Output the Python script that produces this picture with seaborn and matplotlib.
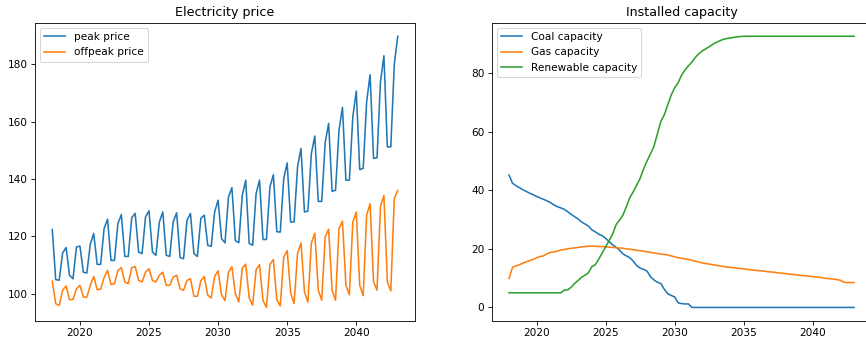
import numpy as np
import matplotlib
matplotlib.use("Agg")
import matplotlib.pyplot as plt
import seaborn as sns

# Quarterly time axis, 2018 Q1 .. 2043 Q1
quarter = 2018 + np.arange(101) / 4

peak_price = [
    122.4, 104.9, 104.7, 114.2,
    116.1, 106.4, 105.2, 116.3,
    116.6, 107.5, 107.2, 117.2,
    121.0, 110.2, 110.2, 122.7,
    126.0, 111.6, 111.6, 124.5,
    127.6, 113.0, 113.0, 126.5,
    128.0, 114.5, 114.0, 126.8,
    128.9, 114.5, 113.4, 125.0,
    128.5, 113.4, 113.0, 125.0,
    128.2, 112.6, 112.2, 125.6,
    128.0, 114.0, 113.0, 126.2,
    127.4, 116.9, 116.5, 128.5,
    132.6, 119.2, 117.7, 133.7,
    137.0, 118.5, 117.8, 134.3,
    139.6, 117.5, 116.9, 134.9,
    139.6, 118.9, 118.9, 137.2,
    141.5, 121.6, 121.5, 140.2,
    145.6, 125.0, 125.0, 144.2,
    150.7, 128.5, 128.8, 148.9,
    155.0, 132.2, 132.2, 152.7,
    159.4, 135.7, 136.1, 157.0,
    165.0, 139.6, 139.6, 161.7,
    170.7, 143.3, 143.7, 166.9,
    176.4, 147.2, 147.4, 173.9,
    183.0, 151.2, 151.2, 180.0,
    189.8,
]

offpeak_price = [
    104.4, 96.5, 95.9, 101.2,
    102.7, 97.9, 98.0, 101.7,
    102.9, 98.8, 98.8, 102.9,
    106.0, 101.4, 101.6, 105.6,
    108.1, 103.2, 103.5, 108.1,
    109.1, 104.1, 103.5, 109.1,
    109.5, 104.6, 104.1, 107.5,
    108.7, 104.6, 104.1, 106.4,
    107.5, 102.9, 102.9, 105.8,
    106.4, 101.7, 101.2, 104.6,
    105.2, 99.1, 99.1, 104.5,
    106.0, 99.5, 98.5, 106.0,
    108.0, 99.6, 97.6, 107.5,
    109.4, 100.0, 97.1, 108.9,
    110.3, 98.5, 96.0, 108.4,
    110.1, 97.6, 95.2, 110.2,
    111.9, 97.9, 95.7, 112.8,
    115.0, 100.2, 96.6, 114.0,
    117.7, 100.6, 97.1, 117.7,
    121.1, 101.2, 97.7, 119.8,
    122.5, 101.2, 97.7, 122.7,
    125.3, 102.9, 99.6, 125.0,
    128.5, 102.9, 99.3, 127.4,
    131.4, 104.1, 101.2, 130.3,
    134.3, 104.1, 101.0, 133.2,
    136.0,
]

coal_capacity = [
    45.2, 42.4, 41.6, 40.9,
    40.2, 39.6, 39.0, 38.5,
    37.9, 37.4, 36.9, 36.4,
    35.8, 35.0, 34.4, 34.0,
    33.5, 32.7, 31.8, 31.0,
    30.2, 29.2, 28.5, 27.8,
    26.5, 25.8, 25.0, 24.5,
    23.6, 22.5, 21.4, 20.6,
    19.6, 18.3, 17.6, 17.0,
    15.8, 14.3, 13.4, 13.0,
    12.4, 10.5, 9.4, 8.6,
    8.2, 6.2, 4.7, 4.1,
    3.6, 1.6, 1.3, 1.2,
    1.2, 0.0, 0.0, 0.0,
    0.0, 0.0, 0.0, 0.0,
    0.0, 0.0, 0.0, 0.0,
    0.0, 0.0, 0.0, 0.0,
    0.0, 0.0, 0.0, 0.0,
    0.0, 0.0, 0.0, 0.0,
    0.0, 0.0, 0.0, 0.0,
    0.0, 0.0, 0.0, 0.0,
    0.0, 0.0, 0.0, 0.0,
    0.0, 0.0, 0.0, 0.0,
    0.0, 0.0, 0.0, 0.0,
    0.0, 0.0, 0.0, 0.0,
    0.0,
]

gas_capacity = [
    9.9, 13.7, 14.2, 14.6,
    15.1, 15.6, 16.0, 16.4,
    17.0, 17.4, 17.6, 18.3,
    18.8, 19.0, 19.2, 19.6,
    19.8, 20.0, 20.2, 20.3,
    20.5, 20.7, 20.8, 20.9,
    20.9, 20.9, 20.8, 20.8,
    20.7, 20.6, 20.5, 20.4,
    20.3, 20.2, 20.0, 19.9,
    19.7, 19.5, 19.4, 19.2,
    19.0, 18.8, 18.6, 18.4,
    18.2, 18.1, 17.9, 17.6,
    17.3, 17.0, 16.8, 16.6,
    16.4, 16.1, 15.8, 15.5,
    15.2, 15.0, 14.8, 14.6,
    14.4, 14.2, 14.0, 13.8,
    13.7, 13.6, 13.4, 13.3,
    13.2, 13.0, 12.9, 12.7,
    12.6, 12.5, 12.4, 12.2,
    12.1, 12.0, 11.8, 11.7,
    11.6, 11.4, 11.3, 11.2,
    11.0, 10.9, 10.8, 10.7,
    10.5, 10.4, 10.3, 10.1,
    9.9, 9.8, 9.7, 9.5,
    9.3, 8.6, 8.5, 8.5,
    8.5,
]

renewable_capacity = [
    5.0, 5.0, 5.0, 5.0,
    5.0, 5.0, 5.0, 5.0,
    5.0, 5.0, 5.0, 5.0,
    5.0, 5.0, 5.0, 5.0,
    5.9, 6.0, 6.9, 8.2,
    9.2, 10.3, 11.0, 11.8,
    13.9, 14.6, 16.5, 18.6,
    20.7, 22.8, 25.0, 28.2,
    29.8, 31.5, 34.4, 37.5,
    39.5, 41.8, 44.1, 47.3,
    50.0, 52.5, 55.0, 59.3,
    63.5, 65.8, 69.2, 72.5,
    75.0, 76.7, 79.3, 81.1,
    82.5, 83.8, 85.4, 86.6,
    87.6, 88.3, 89.0, 89.8,
    90.5, 91.0, 91.5, 91.8,
    92.0, 92.2, 92.4, 92.5,
    92.6, 92.6, 92.6, 92.6,
    92.6, 92.6, 92.6, 92.6,
    92.6, 92.6, 92.6, 92.6,
    92.6, 92.6, 92.6, 92.6,
    92.6, 92.6, 92.6, 92.6,
    92.6, 92.6, 92.6, 92.6,
    92.6, 92.6, 92.6, 92.6,
    92.6, 92.6, 92.6, 92.6,
    92.6,
]

DPI = 75.6
W, H = 866, 339
fig = plt.figure(figsize=(W / DPI, H / DPI), dpi=DPI)
ax_price = fig.add_axes([35 / W, 18 / H, 380 / W, 298.3 / H])
ax_cap = fig.add_axes([491.8 / W, 18 / H, 379.5 / W, 298.3 / H])

# Left panel: electricity prices
sns.lineplot(x=quarter, y=peak_price, ax=ax_price, color="C0",
             label="peak price", estimator=None)
sns.lineplot(x=quarter, y=offpeak_price, ax=ax_price, color="C1",
             label="offpeak price", estimator=None)
ax_price.set_title("Electricity price")
ax_price.legend(loc="upper left")

# Right panel: installed capacity by technology
sns.lineplot(x=quarter, y=coal_capacity, ax=ax_cap, color="C0",
             label="Coal capacity", estimator=None)
sns.lineplot(x=quarter, y=gas_capacity, ax=ax_cap, color="C1",
             label="Gas capacity", estimator=None)
sns.lineplot(x=quarter, y=renewable_capacity, ax=ax_cap, color="C2",
             label="Renewable capacity", estimator=None)
ax_cap.set_title("Installed capacity")
ax_cap.legend(loc="upper left")

for ax in (ax_price, ax_cap):
    ax.set_xlabel("")
    ax.set_ylabel("")

fig.savefig("out.png", dpi=DPI)
